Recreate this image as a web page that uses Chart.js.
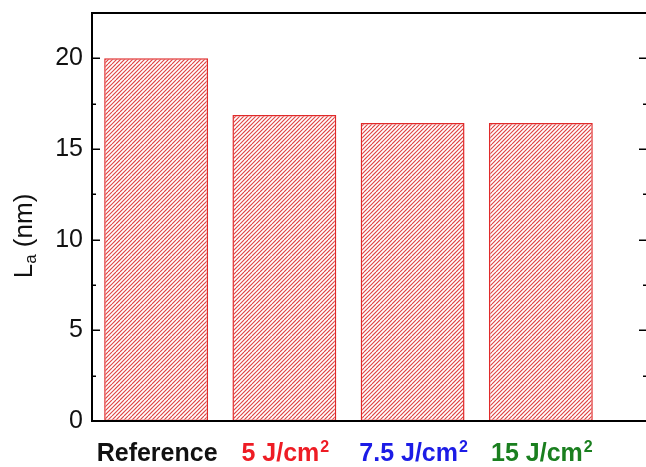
<!DOCTYPE html>
<html>
<head>
<meta charset="utf-8">
<script src="https://cdn.jsdelivr.net/npm/chart.js@4/dist/chart.umd.min.js"></script>
<style>
  html, body { margin: 0; padding: 0; background: #fff; }
  canvas { display: block; }
</style>
</head>
<body>
<canvas id="c" width="646" height="467"></canvas>
<script>
// ---- data ----
const categories = ['Reference', '5 J/cm²', '7.5 J/cm²', '15 J/cm²'];
const xPositions = [1, 2, 3, 4];
const laValues = [20.0, 16.87, 16.43, 16.43];
const labelColors = ['#111111', '#ee1c24', '#1c1ce6', '#1a7f1f'];
const yMajorTicks = [0, 5, 10, 15, 20];
const yMinorTicks = [2.5, 7.5, 12.5, 17.5];
const yTitleMain = 'L';
const yTitleSub = 'a';
const yTitleRest = ' (nm)';

// hatch pattern
function makeHatch() {
  const s = 16;
  const c = document.createElement('canvas');
  c.width = s; c.height = s;
  const g = c.getContext('2d');
  g.fillStyle = '#ffffff';
  g.fillRect(0, 0, s, s);
  g.strokeStyle = 'rgb(222,70,70)';
  g.lineWidth = 1.15;
  g.beginPath();
  for (let k = -16; k <= 32; k += 4) {
    g.moveTo(k, s);
    g.lineTo(k + s, 0);
  }
  g.stroke();
  return g.createPattern(c, 'repeat');
}

const ctx = document.getElementById('c').getContext('2d');
const hatch = makeHatch();

const framePlugin = {
  id: 'frame',
  afterDatasetsDraw(chart) {
    const { ctx, chartArea: a, scales } = chart;
    const y = scales.y;
    ctx.save();
    ctx.strokeStyle = '#000';
    ctx.lineWidth = 2;
    ctx.beginPath();
    ctx.moveTo(a.left, a.top); ctx.lineTo(a.right + 2, a.top);
    ctx.moveTo(a.right + 1.5, a.top); ctx.lineTo(a.right + 1.5, a.bottom);
    ctx.moveTo(a.left, a.bottom); ctx.lineTo(a.right + 2, a.bottom);
    ctx.moveTo(a.left, a.top - 1); ctx.lineTo(a.left, a.bottom + 1);
    ctx.stroke();
    ctx.lineWidth = 1.5;
    ctx.beginPath();
    yMajorTicks.forEach(v => {
      const py = Math.round(y.getPixelForValue(v)) + 0.25;
      ctx.moveTo(a.left, py); ctx.lineTo(a.left + 8, py);
      ctx.moveTo(a.right, py); ctx.lineTo(a.right - 7, py);
    });
    yMinorTicks.forEach(v => {
      const py = Math.round(y.getPixelForValue(v)) + 0.25;
      ctx.moveTo(a.left, py); ctx.lineTo(a.left + 4, py);
      ctx.moveTo(a.right, py); ctx.lineTo(a.right - 3, py);
    });
    ctx.stroke();
    ctx.restore();
  },
  afterDraw(chart) {
    const { ctx, scales } = chart;
    const x = scales.x;
    ctx.save();
    const mainFont = 'bold 25px "Liberation Sans", Arial, sans-serif';
    const supFont = 'bold 16px "Liberation Sans", Arial, sans-serif';
    ctx.textBaseline = 'alphabetic';
    ctx.textAlign = 'left';
    categories.forEach((lab, i) => {
      const parts = lab.split('²');
      const main = parts[0];
      const hasSup = parts.length > 1;
      ctx.font = mainFont;
      const wMain = ctx.measureText(main).width;
      ctx.font = supFont;
      const wSup = hasSup ? ctx.measureText('2').width : 0;
      const total = wMain + wSup + (hasSup ? 1 : 0);
      const cx = x.getPixelForValue(xPositions[i]) + 1;
      const x0 = cx - total / 2;
      ctx.fillStyle = labelColors[i];
      ctx.font = mainFont;
      ctx.fillText(main, x0, 461);
      if (hasSup) {
        ctx.font = supFont;
        ctx.fillText('2', x0 + wMain + 1, 452);
      }
    });
    // y title
    ctx.translate(32, 236);
    ctx.rotate(-Math.PI / 2);
    ctx.fillStyle = '#111';
    const tFont = '26px "Liberation Sans", Arial, sans-serif';
    const sFont = '17px "Liberation Sans", Arial, sans-serif';
    ctx.font = tFont;
    const wL = ctx.measureText(yTitleMain).width;
    const wR = ctx.measureText(yTitleRest).width;
    ctx.font = sFont;
    const wS = ctx.measureText(yTitleSub).width;
    const tot = wL + wS + wR;
    let px = -tot / 2;
    ctx.font = tFont;
    ctx.fillText(yTitleMain, px, 0);
    px += wL;
    ctx.font = sFont;
    ctx.fillText(yTitleSub, px, 4);
    px += wS;
    ctx.font = tFont;
    ctx.fillText(yTitleRest, px, 0);
    ctx.restore();
  }
};

new Chart(ctx, {
  type: 'bar',
  data: {
    datasets: [{
      data: xPositions.map((xv, i) => ({ x: xv, y: laValues[i] })),
      backgroundColor: hatch,
      borderColor: '#e02a2a',
      borderWidth: 1.5,
      borderSkipped: false,
      barPercentage: 0.81,
      categoryPercentage: 1.0
    }]
  },
  options: {
    responsive: false,
    devicePixelRatio: 1,
    animation: false,
    layout: { padding: { top: 13, right: 0, left: 0, bottom: 0 } },
    plugins: { legend: { display: false }, tooltip: { enabled: false } },
    scales: {
      x: {
        type: 'linear',
        offset: false,
        min: 0.5,
        max: 4.82,
        grid: { display: false, drawTicks: false, offset: false },
        border: { display: false },
        ticks: { display: false, stepSize: 1, includeBounds: false },
        afterFit(s) { s.height = 46; s.paddingLeft = 0; s.paddingRight = 0; }
      },
      y: {
        min: 0,
        max: 22.5,
        grid: { display: false, drawTicks: false },
        border: { display: false },
        ticks: {
          stepSize: 5,
          includeBounds: false,
          padding: 9,
          color: '#111',
          font: { family: '"Liberation Sans", Arial, sans-serif', size: 25 }
        },
        afterFit(s) { s.width = 92; s.paddingTop = 0; s.paddingBottom = 0; }
      }
    }
  },
  plugins: [framePlugin]
});
</script>
</body>
</html>
